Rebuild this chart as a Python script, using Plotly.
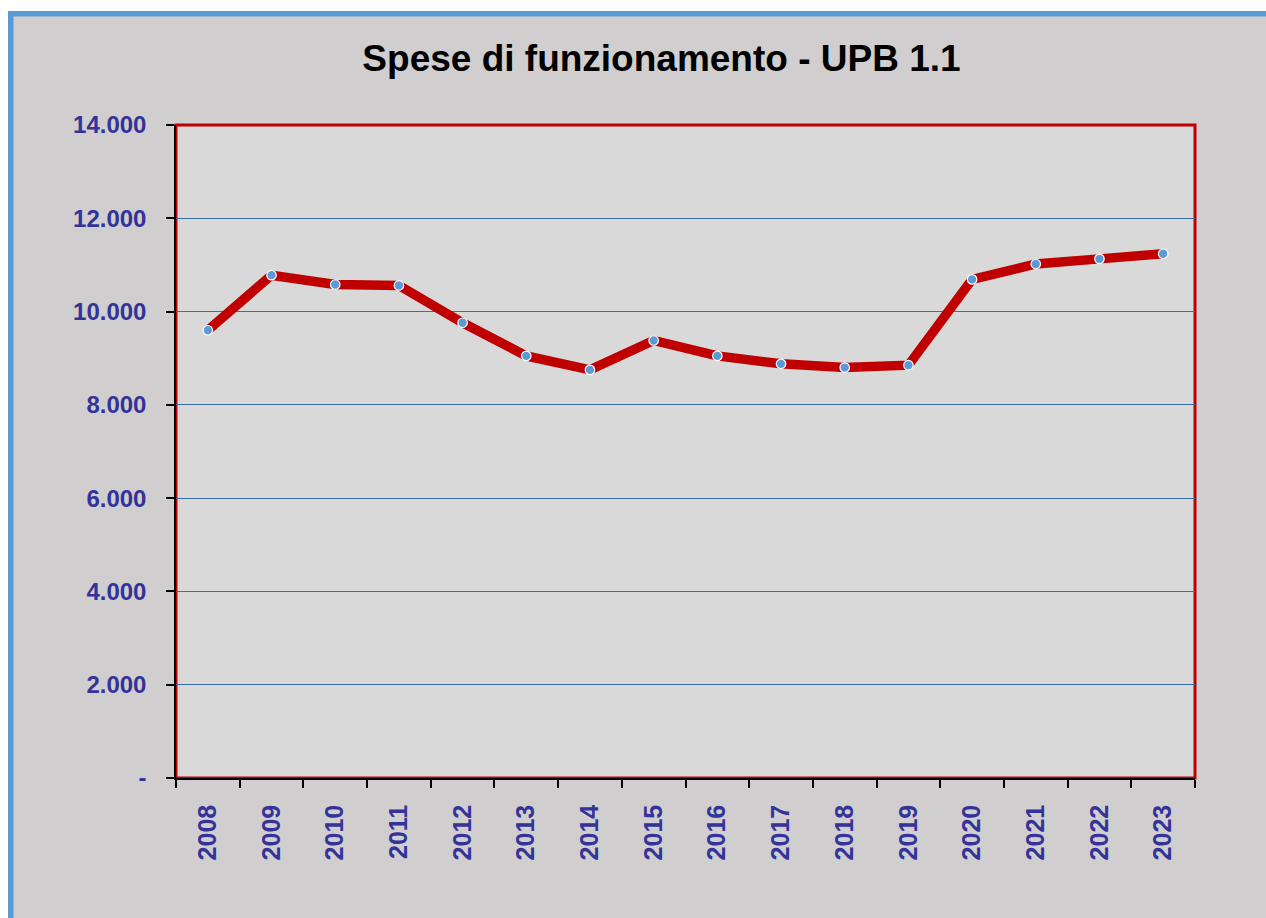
import plotly.graph_objects as go

years = ["2008", "2009", "2010", "2011", "2012", "2013", "2014", "2015",
         "2016", "2017", "2018", "2019", "2020", "2021", "2022", "2023"]
values = [9600, 10780, 10580, 10560, 9760, 9050, 8750, 9380,
          9050, 8880, 8800, 8850, 10690, 11020, 11130, 11240]
y_tickvals = [0, 2000, 4000, 6000, 8000, 10000, 12000, 14000]
y_ticktext = ["-", "2.000", "4.000", "6.000", "8.000", "10.000", "12.000", "14.000"]
title_text = "Spese di funzionamento - UPB 1.1"

W, H = 1266, 918
L, R, T, B = 176, 71, 125, 140
PW, PH = W - L - R, H - T - B


def px_x(px):
    return (px - L) / PW


def px_y(py):
    return (H - B - py) / PH


FONT = "Liberation Sans, Arial, sans-serif"
NAVY = "#333399"

fig = go.Figure()
fig.add_trace(go.Scatter(
    x=years, y=values, mode="lines+markers",
    line=dict(color="#C00000", width=9.5),
    marker=dict(color="#5B9BD5", size=9.5, line=dict(color="white", width=1.2)),
    showlegend=False,
))

shapes = []
# white margins outside the chart frame
shapes.append(dict(type="rect", xref="paper", yref="paper", layer="below",
                   x0=px_x(0), x1=px_x(W), y0=px_y(0), y1=px_y(11),
                   fillcolor="white", line=dict(width=0)))
shapes.append(dict(type="rect", xref="paper", yref="paper", layer="below",
                   x0=px_x(0), x1=px_x(8), y0=px_y(0), y1=px_y(H),
                   fillcolor="white", line=dict(width=0)))
# blue chart frame (top and left)
shapes.append(dict(type="rect", xref="paper", yref="paper", layer="below",
                   x0=px_x(8), x1=px_x(W), y0=px_y(11), y1=px_y(16.5),
                   fillcolor="#5B9BD5", line=dict(width=0)))
shapes.append(dict(type="rect", xref="paper", yref="paper", layer="below",
                   x0=px_x(8), x1=px_x(13.5), y0=px_y(11), y1=px_y(H),
                   fillcolor="#5B9BD5", line=dict(width=0)))
# red plot-area border
shapes.append(dict(type="rect", xref="paper", yref="paper", layer="below",
                   x0=0, x1=1, y0=0, y1=1,
                   line=dict(color="#C00000", width=3)))

fig.update_layout(
    width=W, height=H,
    margin=dict(l=L, r=R, t=T, b=B, pad=0),
    paper_bgcolor="#D0CECE",
    plot_bgcolor="#D9D9D9",
    shapes=shapes,
    title=dict(text=title_text, x=661.5 / W, xanchor="center",
               y=1 - 58 / H, yanchor="middle",
               font=dict(family=FONT, size=37, color="black", weight="bold")),
    xaxis=dict(type="category", range=[-0.5, 15.5], tickson="boundaries",
               ticks="outside", ticklen=8, tickwidth=1.5, tickcolor="black",
               tickangle=-90, showline=True, linecolor="black", linewidth=1.5,
               showgrid=False, zeroline=False, ticklabelstandoff=15,
               tickfont=dict(family=FONT, size=25, color=NAVY, weight="bold")),
    yaxis=dict(range=[0, 14000], tickvals=y_tickvals, ticktext=y_ticktext,
               ticks="outside", ticklen=8, tickwidth=1.5, tickcolor="black",
               showline=True, linecolor="black", linewidth=1.5,
               showgrid=True, gridcolor="#3B6EA5", gridwidth=1,
               zeroline=False, ticklabelstandoff=15,
               tickfont=dict(family=FONT, size=24, color=NAVY, weight="bold")),
)

fig.write_html(
    "out.html",
    config={"displayModeBar": False},
    post_script="document.body.style.margin='0';document.body.style.overflow='hidden';",
)
